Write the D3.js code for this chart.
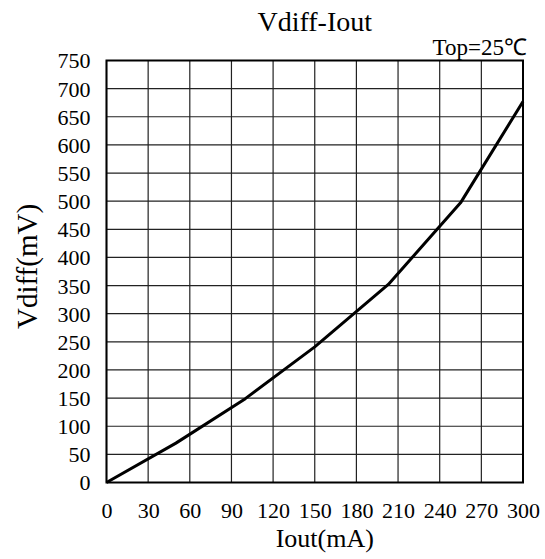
<!DOCTYPE html>
<html>
<head>
<meta charset="utf-8">
<script src="https://cdn.jsdelivr.net/npm/d3@7"></script>
<style>
  body { margin: 0; background: #fff; }
  text { font-family: "Liberation Serif", "Times New Roman", serif; fill: #000; }
</style>
</head>
<body>
<div id="chart"></div>
<script>
// Vdiff vs Iout curve
const iout = [0, 50, 100, 150, 203, 255, 300];
const vdiff = [0, 70, 149, 241, 352, 497, 677];
const xTicks = [0, 30, 60, 90, 120, 150, 180, 210, 240, 270, 300];
const yTicks = [0, 50, 100, 150, 200, 250, 300, 350, 400, 450, 500, 550, 600, 650, 700, 750];

const W = 545, H = 559;
const margin = { top: 60.5, right: 22, bottom: 76.5, left: 106.5 };
const width = W - margin.left - margin.right;
const height = H - margin.top - margin.bottom;

const svg = d3.select('#chart').append('svg')
  .attr('width', W)
  .attr('height', H);

const g = svg.append('g').attr('transform', `translate(${margin.left},${margin.top})`);

const x = d3.scaleLinear().domain([0, 300]).range([0, width]);
const y = d3.scaleLinear().domain([0, 750]).range([height, 0]);

// grid
g.append('g').selectAll('line').data(xTicks).enter().append('line')
  .attr('x1', (d) => x(d)).attr('x2', (d) => x(d))
  .attr('y1', 0).attr('y2', height)
  .attr('stroke', '#222').attr('stroke-width', 1.2);
g.append('g').selectAll('line').data(yTicks).enter().append('line')
  .attr('x1', 0).attr('x2', width)
  .attr('y1', (d) => y(d)).attr('y2', (d) => y(d))
  .attr('stroke', '#222').attr('stroke-width', 1.2);

// frame
g.append('rect').attr('width', width).attr('height', height)
  .attr('fill', 'none').attr('stroke', '#000').attr('stroke-width', 2);

// axes (labels only)
const xAxis = g.append('g').attr('transform', `translate(0,${height})`)
  .call(d3.axisBottom(x).tickValues(xTicks).tickSize(0).tickPadding(20));
const yAxis = g.append('g')
  .call(d3.axisLeft(y).tickValues(yTicks).tickSize(0).tickPadding(16));
[xAxis, yAxis].forEach((a) => {
  a.select('.domain').remove();
  a.selectAll('text').style('font-size', '22px').style('font-family', '"Liberation Serif", serif').attr('fill', '#000');
});
yAxis.selectAll('text').attr('dy', '0.34em');

// curve
const pts = iout.map((d, i) => [d, vdiff[i]]);
g.append('path').datum(pts)
  .attr('fill', 'none').attr('stroke', '#000').attr('stroke-width', 3)
  .attr('stroke-linejoin', 'round')
  .attr('d', d3.line().x((d) => x(d[0])).y((d) => y(d[1])));

// texts
svg.append('text').attr('x', margin.left + width / 2).attr('y', 31)
  .attr('text-anchor', 'middle').style('font-size', '28px').text('Vdiff-Iout');
svg.append('text').attr('x', margin.left + width + 4).attr('y', 55)
  .attr('text-anchor', 'end').style('font-size', '23px').text('Top=25℃');
svg.append('text').attr('x', margin.left + width / 2 + 10).attr('y', 547)
  .attr('text-anchor', 'middle').style('font-size', '26px').text('Iout(mA)');
svg.append('text')
  .attr('transform', `translate(37,${margin.top + height / 2 - 5}) rotate(-90)`)
  .attr('text-anchor', 'middle').style('font-size', '29px').text('Vdiff(mV)');
</script>
</body>
</html>
